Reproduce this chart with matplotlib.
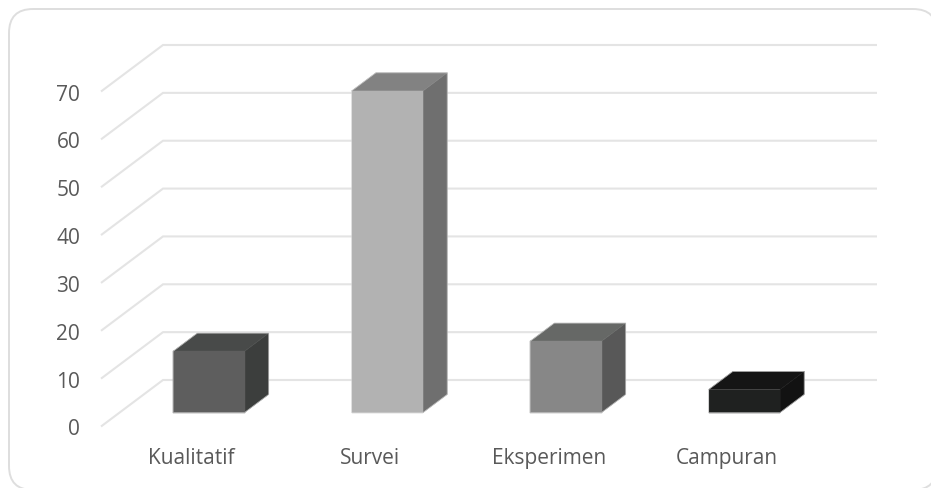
import matplotlib
matplotlib.use("Agg")
import matplotlib.pyplot as plt
from matplotlib.patches import FancyBboxPatch, Polygon
from matplotlib.transforms import ScaledTranslation

plt.rcParams["font.family"] = ["Open Sans", "DejaVu Sans"]

# Data
categories = ["Kualitatif", "Survei", "Eksperimen", "Campuran"]
values = [12.8, 67.2, 14.9, 4.8]
y_ticks = [0, 10, 20, 30, 40, 50, 60, 70]

# Face shades for each bar: front, top, side
front_colors = ["#5e5e5e", "#b2b2b2", "#878787", "#1f2120"]
top_colors = ["#484a49", "#828282", "#666866", "#151515"]
side_colors = ["#3c3e3d", "#6f6f6f", "#585858", "#121212"]

W, H = 931, 489
TEXT = "#595959"
GRID = "#e4e4e4"

# Oblique projection: full floor depth expressed in data units
DEPTH_X = 62 / 178.5
DEPTH_Y = 46.5 / 4.786
BAR_WIDTH = 0.4
BAR_NEAR, BAR_FAR = 0.30, 0.69


def project(x, y, d):
    return x + d * DEPTH_X, y + d * DEPTH_Y


fig = plt.figure(figsize=(W / 100, H / 100), dpi=100, facecolor="white")

# Rounded card behind the chart, in pixel coordinates
bg = fig.add_axes([0, 0, 1, 1], zorder=0)
bg.set_xlim(0, W)
bg.set_ylim(H, 0)
bg.axis("off")
bg.add_patch(FancyBboxPatch((9 + 24, 10 + 24), 928 - 48, 481 - 48,
                            boxstyle="round,pad=24,rounding_size=24",
                            facecolor="white", edgecolor="#dedede",
                            linewidth=1.4, clip_on=True))

ax = fig.add_axes([101 / W, (H - 427.5) / H, 714 / W, 335 / H], zorder=1)
ax.patch.set_alpha(0)
ax.set_xlim(-0.5, 3.5)
ax.set_ylim(0, 70)
for spine in ax.spines.values():
    spine.set_visible(False)

# Gridlines run from the front edge along the side wall, then across the back wall
for t in y_ticks:
    pts = [project(-0.5, t, 0), project(-0.5, t, 1), project(3.5, t, 1)]
    ax.plot(*zip(*pts), color=GRID, lw=1.5, clip_on=False, zorder=1,
            solid_capstyle="butt", solid_joinstyle="miter")

# Bars as three visible faces of a box, with a faint outline round the silhouette
for i, v in enumerate(values):
    x0, x1 = i - BAR_WIDTH / 2, i + BAR_WIDTH / 2
    front = [project(x0, 0, BAR_NEAR), project(x1, 0, BAR_NEAR),
             project(x1, v, BAR_NEAR), project(x0, v, BAR_NEAR)]
    top = [project(x0, v, BAR_NEAR), project(x1, v, BAR_NEAR),
           project(x1, v, BAR_FAR), project(x0, v, BAR_FAR)]
    side = [project(x1, 0, BAR_NEAR), project(x1, 0, BAR_FAR),
            project(x1, v, BAR_FAR), project(x1, v, BAR_NEAR)]
    for pts, color in ((side, side_colors[i]), (top, top_colors[i]),
                       (front, front_colors[i])):
        ax.add_patch(Polygon(pts, closed=True, facecolor=color,
                             edgecolor=color, linewidth=0.3,
                             joinstyle="miter", clip_on=False, zorder=3))
    outline = [front[0], front[1], side[1], side[2], top[3], front[3]]
    ax.add_patch(Polygon(outline, closed=True, facecolor="none",
                         edgecolor="#d4d4d4", linewidth=0.6, alpha=0.7,
                         joinstyle="miter", clip_on=False, zorder=4))

ax.set_yticks(y_ticks)
ax.set_xticks(range(len(categories)))
ax.set_xticklabels(categories)
ax.tick_params(axis="y", length=0, pad=15, labelsize=15, labelcolor=TEXT)
ax.tick_params(axis="x", length=0, pad=15, labelsize=15, labelcolor=TEXT)

# Nudge the category labels slightly to the right of their ticks
nudge = ScaledTranslation(1.5 / 100, 0, fig.dpi_scale_trans)
for label in ax.get_xticklabels():
    label.set_transform(label.get_transform() + nudge)

fig.savefig("out.png", dpi=100)
